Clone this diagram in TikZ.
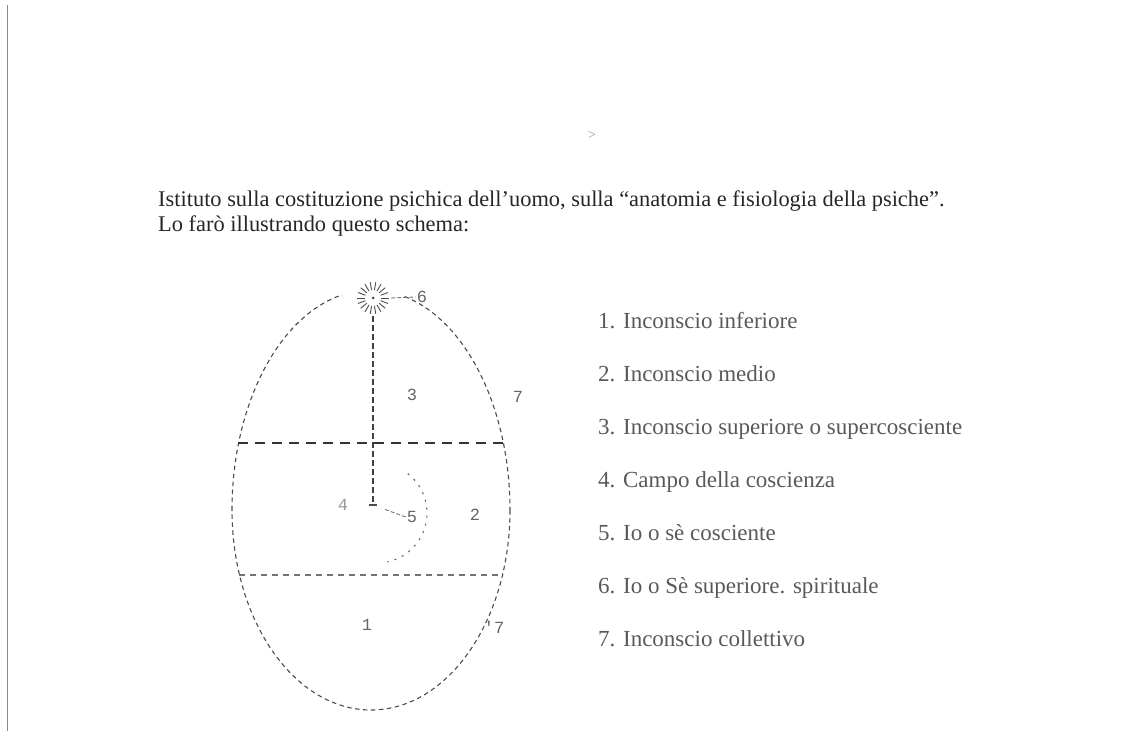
\documentclass[tikz,border=0pt]{standalone}
\usepackage{fontspec}
\setmainfont{Liberation Serif}
\setmonofont{Liberation Mono}
\usetikzlibrary{arrows.meta,positioning,calc}

\begin{document}
\begin{tikzpicture}[x=1pt, y=-1pt,
  egg/.style={draw=black!70, line width=1.1pt, dash pattern=on 4.5pt off 3.5pt},
  upper/.style={draw=black!80, line width=1.2pt, dash pattern=on 10pt off 7pt},
  lower/.style={draw=black!55, line width=1.1pt, dash pattern=on 6pt off 5pt},
  axis/.style={draw=black!75, line width=1.1pt, dash pattern=on 6pt off 3pt},
  pointer/.style={draw=black!55, line width=0.9pt, dash pattern=on 4pt off 2pt},
  ray/.style={draw=black!70, line width=0.9pt},
  num/.style={font=\ttfamily\fontsize{17}{17}\selectfont, text=black!60, inner sep=1pt},
  item/.style={anchor=base west, inner sep=0pt, font=\fontsize{23}{23}\selectfont, text=black!65},
  para/.style={anchor=base west, inner sep=0pt, font=\fontsize{22.4}{22.4}\selectfont, text=black!85}
]
\useasboundingbox (0,0) rectangle (1131,731);

%% margin of the scanned page
\draw[black!45, line width=1pt] (7,5) -- (7,731);
\node[text=black!40, font=\fontsize{14}{14}\selectfont] (mark) at (592,135) {>};

%% Introductory text
\node[para] (intro) at (158,206)
  {Istituto sulla costituzione psichica dell’uomo, sulla “anatomia e fisiologia della psiche”.};
\node[para] (schema) at (158,231) {Lo farò illustrando questo schema:};

%% Egg outline (upper half broken by the star)
\draw[egg] (232,510) arc[start angle=180, end angle=258, x radius=139, y radius=220];
\draw[egg] (371,510) ++(284:139 and 220)
  arc[start angle=284, end angle=360, x radius=139, y radius=220];
\draw[egg] (510,510) arc[start angle=0, end angle=180, x radius=139, y radius=200];

%% Star of the higher Self
\node[circle, minimum size=36pt, inner sep=0pt] (sun) at (373,298) {};
\foreach \a in {0,20,...,340}
  \draw[ray] (sun.center) ++(\a:8) -- ++(\a:8);
\fill[black!70] (sun.center) circle (1.5);
\node[num] (six) at (422,297) {6};
\draw[pointer] (sun.east) -- (six.west);

%% Axis down to the conscious self
\coordinate (io) at (373,505);
\draw[axis] (sun.south) -- (io);
\draw[black!70, line width=1.2pt] ($(io)+(-4,0)$) -- ($(io)+(4,0)$);

%% Levels
\draw[upper] (238,443) -- (504,443);
\draw[lower] (239,575) -- (503,575);

%% Field of consciousness
\draw[egg, draw=black!60, dash pattern=on 2pt off 6pt]
  (377,513) ++(-52:50) arc[start angle=-52, end angle=78, radius=50];

%% Numbers in the egg
\node[num] (three) at (412,395) {3};
\node[num] (seven) at (518,397) {7};
\node[num, text=black!40] (four) at (343,505) {4};
\node[num] (five) at (412,517) {5};
\node[num] (two) at (475,515) {2};
\node[num] (one) at (367,625) {1};
\node[num] (sevenb) at (494,627) {'7};
\draw[pointer, shorten >=11pt] (five.west) -- (io);

%% Legend
\node[item] (leg1) at (598,328) {1. Inconscio inferiore};
\node[item] (leg2) at (598,381) {2. Inconscio medio};
\node[item] (leg3) at (598,434) {3. Inconscio superiore o supercosciente};
\node[item] (leg4) at (598,487) {4. Campo della coscienza};
\node[item] (leg5) at (598,540) {5. Io o sè cosciente};
\node[item] (leg6) at (598,593) {6. Io o Sè superiore. spirituale};
\node[item] (leg7) at (598,646) {7. Inconscio collettivo};

\end{tikzpicture}
\end{document}
